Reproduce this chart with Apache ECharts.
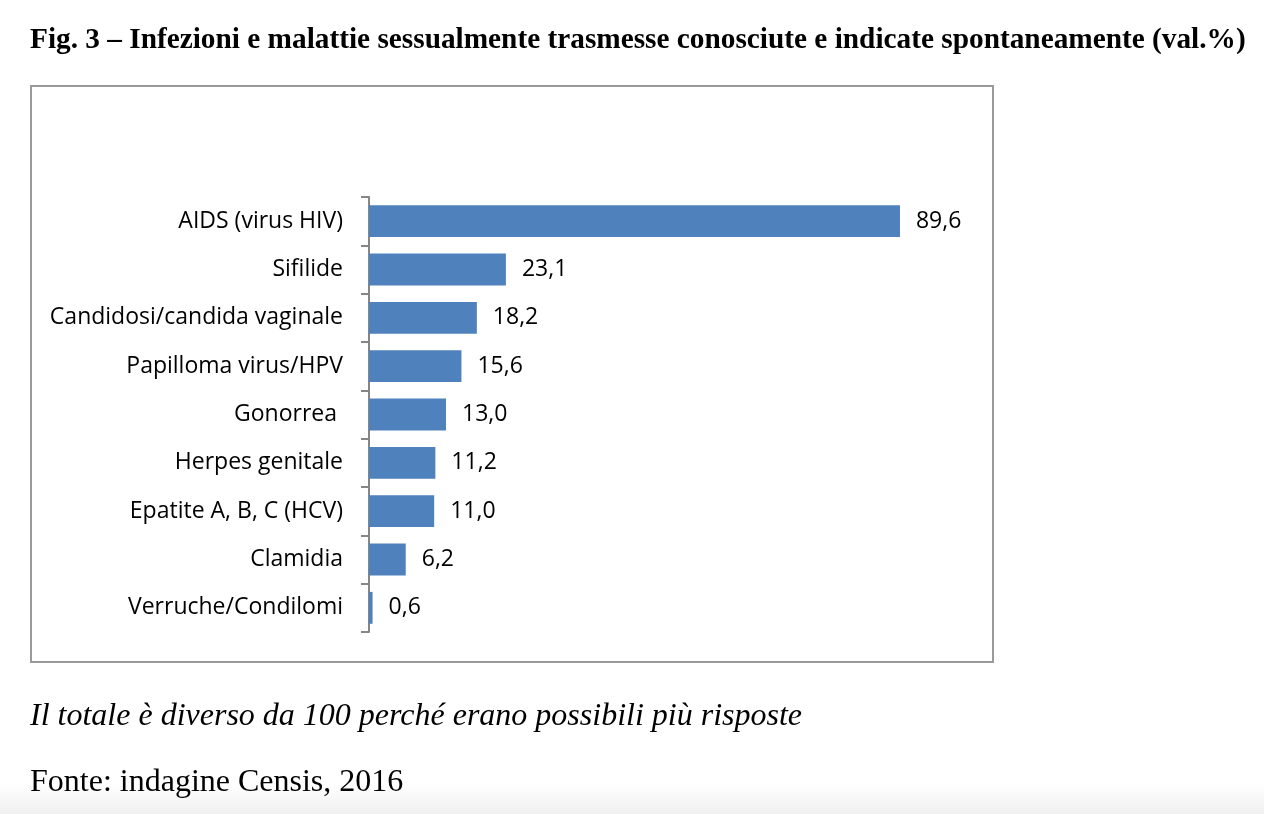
<!DOCTYPE html>
<html>
<head>
<meta charset="utf-8">
<script src="https://cdn.jsdelivr.net/npm/echarts@6/dist/echarts.min.js"></script>
<style>
html,body{margin:0;padding:0;background:#fff;}
#chart{width:1264px;height:814px;}
</style>
</head>
<body>
<div id="chart"></div>
<script>
const categories = ["AIDS (virus HIV)", "Sifilide", "Candidosi/candida vaginale", "Papilloma virus/HPV", "Gonorrea ", "Herpes genitale", "Epatite A, B, C (HCV)", "Clamidia", "Verruche/Condilomi"];
const values = [89.6, 23.1, 18.2, 15.6, 13.0, 11.2, 11.0, 6.2, 0.6];
const titleText = "Fig. 3 – Infezioni e malattie sessualmente trasmesse conosciute e indicate spontaneamente (val.%)";
const noteText = "Il totale è diverso da 100 perché erano possibili più risposte";
const sourceText = "Fonte: indagine Censis, 2016";

const chart = echarts.init(document.getElementById('chart'), null, {renderer: 'canvas'});
chart.setOption({
  animation: false,
  backgroundColor: '#fff',
  graphic: [
    {type: 'rect', shape: {x: 0, y: 784, width: 1264, height: 30}, silent: true,
      style: {fill: new echarts.graphic.LinearGradient(0, 0, 0, 1, [{offset: 0, color: 'rgba(0,0,0,0)'}, {offset: 1, color: 'rgba(0,0,0,0.06)'}])}},
    {type: 'text', left: 30, top: 26, style: {text: titleText, font: 'bold 29.3px "Liberation Serif"', fill: '#000'}},
    {type: 'rect', shape: {x: 31, y: 86, width: 962, height: 576}, style: {fill: 'none', stroke: '#9a9a9a', lineWidth: 2}, silent: true},
    {type: 'text', left: 30, top: 701, style: {text: noteText, font: 'italic 32px "Liberation Serif"', fill: '#000'}},
    {type: 'text', left: 30, top: 767, style: {text: sourceText, font: '32px "Liberation Serif"', fill: '#000'}}
  ],
  grid: {left: 369, top: 197, height: 435, width: 592.6, containLabel: false},
  xAxis: {
    type: 'value', min: 0, max: 100, show: false
  },
  yAxis: {
    type: 'category', data: categories, inverse: true,
    axisLine: {show: true, lineStyle: {color: '#868686', width: 2}},
    axisTick: {show: true, length: 8, lineStyle: {color: '#868686', width: 2}},
    axisLabel: {fontFamily: 'Open Sans', fontSize: 23, color: '#000', margin: 26}
  },
  series: [{
    type: 'bar', data: values, barWidth: '66%',
    itemStyle: {color: '#4f81bd'},
    label: {
      show: true, position: 'right', distance: 16,
      fontFamily: 'Open Sans', fontSize: 23, color: '#000',
      formatter: p => p.value.toFixed(1).replace('.', ',')
    }
  }]
});
</script>
</body>
</html>
